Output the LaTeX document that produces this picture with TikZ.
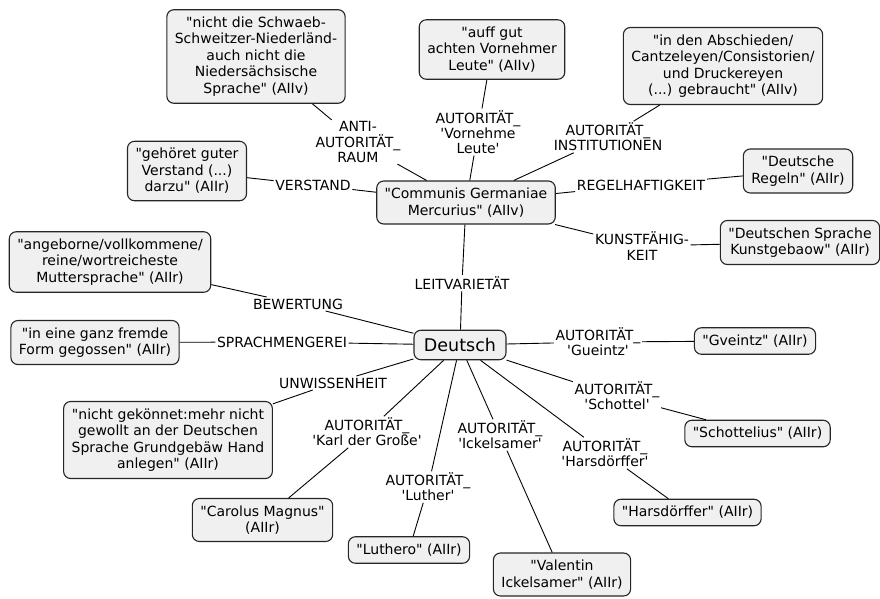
\documentclass[tikz,border=0pt]{standalone}
\usepackage{fontspec}
\setmainfont{DejaVu Sans}[Ligatures=TeXOff]
\definecolor{boxfill}{RGB}{240,240,240}
\tikzset{
  cbox/.style={draw=black!85, line width=1.1pt, fill=boxfill, rounded corners=7pt,
    align=center, inner xsep=8pt, inner ysep=7pt, font=\fontsize{14}{16.5}\selectfont},
  lbl/.style={align=center, inner sep=1.5pt, font=\fontsize{14}{15.2}\selectfont},
  conn/.style={draw=black, line width=0.9pt}
}
\begin{document}
\begin{tikzpicture}[x=1pt,y=-1pt]
\useasboundingbox (0,0) rectangle (880,598);
% boxes
\node[cbox] (schwaeb) at (256,56.5) {"nicht die Schwaeb-\\Schweitzer-Niederländ-\\auch nicht die\\Niedersächsische\\Sprache" (AIIv)};
\node[cbox] (auff) at (492,49.5) {"auff gut\\achten Vornehmer\\Leute" (AIIv)};
\node[cbox] (absch) at (723,66) {"in den Abschieden/\\Cantzeleyen/Consistorien/\\und Druckereyen\\(...) gebraucht" (AIIv)};
\node[cbox] (gehoeret) at (187,171) {"gehöret guter\\Verstand (...)\\darzu" (AIIr)};
\node[cbox] (communis) at (466,202.5) {"Communis Germaniae\\Mercurius" (AIIv)};
\node[cbox] (regeln) at (798,171) {"Deutsche\\Regeln" (AIIr)};
\node[cbox] (kunstgeb) at (800,242.5) {"Deutschen Sprache\\Kunstgebaow" (AIIr)};
\node[cbox] (angeb) at (110,262) {"angeborne/vollkommene/\\reine/wortreicheste\\Muttersprache" (AIIr)};
\node[cbox] (fremde) at (95,342.5) {"in eine ganz fremde\\Form gegossen" (AIIr)};
\node[cbox, font=\fontsize{17.5}{20}\selectfont, inner xsep=10pt, inner ysep=8pt] (deutsch) at (460,345) {Deutsch};
\node[cbox] (gveintz) at (755,341) {"Gveintz" (AIIr)};
\node[cbox] (gekoennet) at (168,440) {"nicht gekönnet:mehr nicht\\gewollt an der Deutschen\\Sprache Grundgebäw Hand\\anlegen" (AIIr)};
\node[cbox] (schottelius) at (757.5,433.5) {"Schottelius" (AIIr)};
\node[cbox] (carolus) at (262.5,520) {"Carolus Magnus"\\(AIIr)};
\node[cbox] (luthero) at (409,550) {"Luthero" (AIIr)};
\node[cbox] (harsbox) at (687.5,512.5) {"Harsdörffer" (AIIr)};
\node[cbox] (valentin) at (562,574.5) {"Valentin\\Ickelsamer" (AIIr)};
% labels
\node[lbl] (antiraum) at (358,142) {ANTI-\\AUTORITÄT\_\\RAUM};
\node[lbl] (vornehme) at (478,132) {AUTORITÄT\_\\'Vornehme\\Leute'};
\node[lbl] (institut) at (608,137) {AUTORITÄT\_\\INSTITUTIONEN};
\node[lbl] (verstand) at (313,185) {VERSTAND};
\node[lbl] (regel) at (641,185) {REGELHAFTIGKEIT};
\node[lbl] (kunst) at (642,246) {KUNSTFÄHIG-\\KEIT};
\node[lbl] (leit) at (462,283) {LEITVARIETÄT};
\node[lbl] (bewert) at (298,304) {BEWERTUNG};
\node[lbl] (sprach) at (282,342) {SPRACHMENGEREI};
\node[lbl] (unwiss) at (333,383) {UNWISSENHEIT};
\node[lbl] (gueintz) at (598,342) {AUTORITÄT\_\\'Gueintz'};
\node[lbl] (schottel) at (617,396) {AUTORITÄT\_\\'Schottel'};
\node[lbl] (karl) at (367,432) {AUTORITÄT\_\\'Karl der Große'};
\node[lbl] (ickel) at (500,435) {AUTORITÄT\_\\'Ickelsamer'};
\node[lbl] (harsd) at (605,453) {AUTORITÄT\_\\'Harsdörffer'};
\node[lbl] (luther) at (428,487) {AUTORITÄT\_\\'Luther'};
% connectors
\draw[conn] (schwaeb) -- (antiraum) -- (communis);
\draw[conn] (auff) -- (vornehme) -- (communis);
\draw[conn] (absch) -- (institut) -- (communis);
\draw[conn] (gehoeret) -- (verstand) -- (communis);
\draw[conn] (communis) -- (regel) -- (regeln);
\draw[conn] (communis) -- (kunst) -- (kunstgeb);
\draw[conn] (communis) -- (leit) -- (deutsch);
\draw[conn] (angeb) -- (bewert) -- (deutsch);
\draw[conn] (fremde) -- (sprach) -- (deutsch);
\draw[conn] (gekoennet) -- (unwiss) -- (deutsch);
\draw[conn] (deutsch) -- (gueintz) -- (gveintz);
\draw[conn] (deutsch) -- (schottel) -- (schottelius);
\draw[conn] (deutsch) -- (karl) -- (carolus);
\draw[conn] (deutsch) -- (ickel) -- (valentin);
\draw[conn] (deutsch) -- (harsd) -- (harsbox);
\draw[conn] (deutsch) -- (luther) -- (luthero);
\end{tikzpicture}
\end{document}
